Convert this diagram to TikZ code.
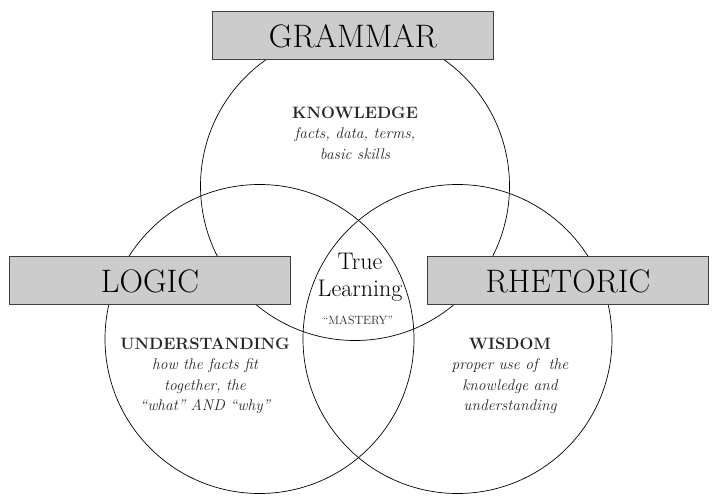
\documentclass[tikz,border=0pt]{standalone}
\usepackage{tikz}
\usetikzlibrary{positioning}
\newcommand{\headfont}{\fontsize{32.5}{34}\selectfont}
\newcommand{\notefont}{\fontsize{15.5}{20.5}\selectfont\itshape}
\newcommand{\keyword}[1]{{\upshape\bfseries\fontsize{16.5}{20.5}\selectfont #1}}
\begin{document}
\begin{tikzpicture}[x=1pt,y=-1pt]
            \tikzset {
                set circle/.style={
                        draw,
                        circle,
                        line width=0.7pt,
                        inner sep=0pt,
                        minimum size=309pt
                    },
                title box/.style={
                        draw=black!75,
                        fill=black!20,
                        line width=1pt,
                        font=\headfont,
                        minimum width=281pt,
                        minimum height=48pt
                    },
                area text/.style={
                        align=center,
                        font=\notefont,
                        text=black!85
                    }}

            % frame
            \useasboundingbox (0,0) rectangle (723,502);

            % sets
            \node[set circle] (grammarset) at (355,186) {};
            \node[set circle] (logicset) at (259.5,339) {};
            \node[set circle] (rhetoricset) at (457.5,339) {};

            % titles
            \node[title box] (grammar) at (353,36) {GRAMMAR};
            \node[title box] (logic) at (150,281) {LOGIC};
            \node[title box] (rhetoric) at (568,281) {RHETORIC};

            % contents
            \node[area text] (knowledge) at (355,133) {\keyword{KNOWLEDGE}\\facts, data, terms,\\basic skills};
            \node[area text] (understanding) at (205,376) {\keyword{UNDERSTANDING}\\how the facts fit\\together, the\\“what” AND “why”};
            \node[area text] (wisdom) at (510,376) {\keyword{WISDOM}\\proper use of\ \ the\\knowledge and\\understanding};

            % centre
            \node[align=center, font=\fontsize{24}{27}\selectfont] (truelearning) at (360,277) {True\\Learning};
            \node[font=\fontsize{12}{14}\selectfont, text=black!85] (mastery) at (358,320) {“MASTERY”};
\end{tikzpicture}
\end{document}
